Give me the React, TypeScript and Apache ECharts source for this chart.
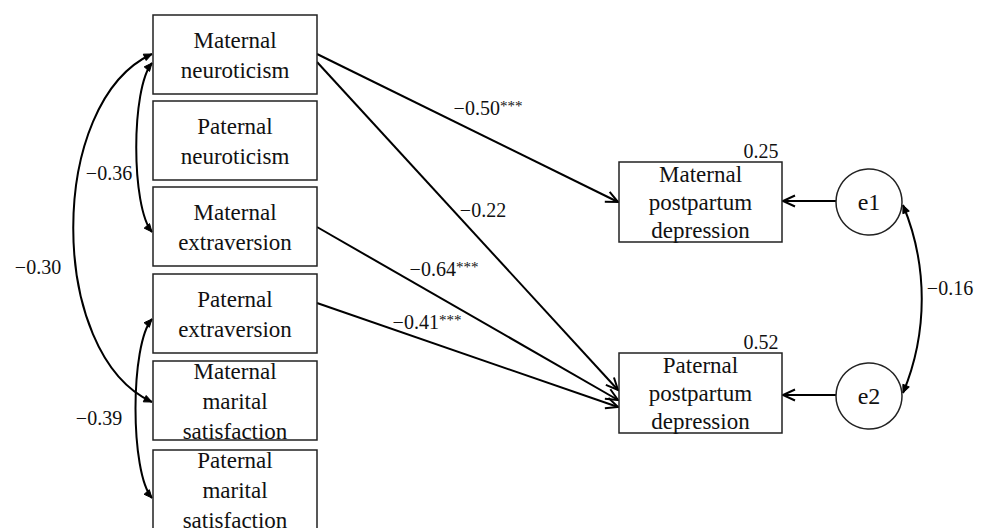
import React, { useEffect, useRef } from "react";
import * as echarts from "echarts";

// ---------- data ----------
const predictorLabels = [
  "Maternal\nneuroticism",
  "Paternal\nneuroticism",
  "Maternal\nextraversion",
  "Paternal\nextraversion",
  "Maternal\nmarital\nsatisfaction",
  "Paternal\nmarital\nsatisfaction",
];
const outcomeLabels = [
  "Maternal\npostpartum\ndepression",
  "Paternal\npostpartum\ndepression",
];
const errorLabels = ["e1", "e2"];
const rSquared = [0.25, 0.52];

// regression paths: predictor index -> outcome index
const pathFrom = [0, 0, 2, 3];
const pathTo = [0, 1, 1, 1];
const pathCoef = [-0.5, -0.22, -0.64, -0.41];
const pathStars = ["***", "", "***", "***"];

// covariances among predictors
const covA = [0, 0, 3];
const covB = [2, 4, 5];
const covCoef = [-0.36, -0.3, -0.39];

// residual covariance e1 <-> e2
const errCovCoef = -0.16;

// ---------- layout (positions / sizes) ----------
const FONT = "Liberation Serif";
const LBOX = { x: 153, w: 164, h: 79, lineH: 30, font: 23 };
const leftTops = [15, 101, 187, 274, 361, 450];
const RBOX = { x: 619, w: 163, h: 80, lineH: 28, font: 23 };
const rightTops = [162, 353];
const ERR = { cx: 869, r: 33 };
const errCy = [202, 396];

const pathStartY = [54, 62, 227, 303];
const pathEndY = [202, 390, 400, 407];
const pathLabelPos = [
  [488, 108],
  [483, 210],
  [444, 269],
  [427, 322],
];

const covStartY = [63, 54, 319];
const covEndY = [232, 402, 498];
const covCtrlX = [131, 47, 130];
const covCtrlD = [25, 48, 25];
const covLabelPos = [
  [109, 173],
  [38, 267],
  [99, 418],
];

const errCov = { x: 903, y1: 205, y2: 393, cx: 928, d: 60, lx: 950, ly: 288 };
const r2LabelX = 761;
const r2LabelDy = -11;

function fmt(v: number) {
  return (v < 0 ? "\u2212" : "") + Math.abs(v).toFixed(2);
}

function openHead(tx: number, ty: number, fx: number, fy: number, len = 12, half = 5.5) {
  const dx = tx - fx;
  const dy = ty - fy;
  const l = Math.hypot(dx, dy) || 1;
  const ux = dx / l;
  const uy = dy / l;
  const nx = -uy;
  const ny = ux;
  return [
    [tx - ux * len + nx * half, ty - uy * len + ny * half],
    [tx, ty],
    [tx - ux * len - nx * half, ty - uy * len - ny * half],
  ];
}

function buildOption() {
  const els: any[] = [];
  const lineStyle = { stroke: "#000", lineWidth: 2, fill: null };

  // regression paths
  for (let i = 0; i < pathCoef.length; i++) {
    const x1 = LBOX.x + LBOX.w;
    const y1 = pathStartY[i];
    const x2 = RBOX.x - 1;
    const y2 = pathEndY[i];
    els.push({ type: "line", shape: { x1, y1, x2, y2 }, style: lineStyle, z: 5 });
    els.push({
      type: "polyline",
      shape: { points: openHead(x2, y2, x1, y1) },
      style: { stroke: "#000", lineWidth: 2, fill: null },
      z: 5,
    });
    const stars = pathStars[i];
    els.push({
      type: "text",
      x: pathLabelPos[i][0],
      y: pathLabelPos[i][1],
      style: {
        text: stars ? `{a|${fmt(pathCoef[i])}}{b|${stars}}` : `{a|${fmt(pathCoef[i])}}`,
        align: "center",
        verticalAlign: "middle",
        rich: {
          a: { fontFamily: FONT, fontSize: 20, fill: "#111" },
          b: { fontFamily: FONT, fontSize: 15, fill: "#111", padding: [0, 0, 4, 0] },
        },
      },
      z: 10,
    });
  }

  // error -> outcome arrows
  for (let i = 0; i < errorLabels.length; i++) {
    const x1 = ERR.cx - ERR.r;
    const y = errCy[i] - 1;
    const x2 = RBOX.x + RBOX.w + 1;
    els.push({ type: "line", shape: { x1, y1: y, x2, y2: y }, style: lineStyle, z: 5 });
    els.push({
      type: "polyline",
      shape: { points: openHead(x2, y, x1, y) },
      style: { stroke: "#000", lineWidth: 2, fill: null },
      z: 5,
    });
  }

  // covariance curves (left)
  const bx = LBOX.x - 1;
  for (let i = 0; i < covCoef.length; i++) {
    const y1 = covStartY[i];
    const y2 = covEndY[i];
    const cx = covCtrlX[i];
    const d = covCtrlD[i];
    const cp1 = [cx, y1 + d];
    const cp2 = [cx, y2 - d];
    els.push({
      type: "bezierCurve",
      shape: { x1: bx, y1, x2: bx, y2, cpx1: cp1[0], cpy1: cp1[1], cpx2: cp2[0], cpy2: cp2[1] },
      style: { stroke: "#000", lineWidth: 2, fill: null },
      z: 4,
    });
    const h1 = openHead(bx, y1, cp1[0], cp1[1], 8, 3.5);
    const h2 = openHead(bx, y2, cp2[0], cp2[1], 8, 3.5);
    els.push({ type: "polygon", shape: { points: h1 }, style: { fill: "#000", stroke: "#000", lineWidth: 1 }, z: 5 });
    els.push({ type: "polygon", shape: { points: h2 }, style: { fill: "#000", stroke: "#000", lineWidth: 1 }, z: 5 });
    els.push({
      type: "text",
      x: covLabelPos[i][0],
      y: covLabelPos[i][1],
      style: { text: fmt(covCoef[i]), fontFamily: FONT, fontSize: 20, fill: "#111", align: "center", verticalAlign: "middle" },
      z: 10,
    });
  }

  // residual covariance
  {
    const { x, y1, y2, cx, d } = errCov;
    const cp1 = [cx, y1 + d];
    const cp2 = [cx, y2 - d];
    els.push({
      type: "bezierCurve",
      shape: { x1: x, y1, x2: x, y2, cpx1: cp1[0], cpy1: cp1[1], cpx2: cp2[0], cpy2: cp2[1] },
      style: { stroke: "#000", lineWidth: 2, fill: null },
      z: 4,
    });
    els.push({ type: "polygon", shape: { points: openHead(x, y1, cp1[0], cp1[1], 8, 3.5) }, style: { fill: "#000", stroke: "#000", lineWidth: 1 }, z: 5 });
    els.push({ type: "polygon", shape: { points: openHead(x, y2, cp2[0], cp2[1], 8, 3.5) }, style: { fill: "#000", stroke: "#000", lineWidth: 1 }, z: 5 });
    els.push({
      type: "text",
      x: errCov.lx,
      y: errCov.ly,
      style: { text: fmt(errCovCoef), fontFamily: FONT, fontSize: 20, fill: "#111", align: "center", verticalAlign: "middle" },
      z: 10,
    });
  }

  // predictor boxes
  predictorLabels.forEach((lab, i) => {
    const y = leftTops[i];
    els.push({
      type: "rect",
      shape: { x: LBOX.x, y, width: LBOX.w, height: LBOX.h },
      style: { fill: "#fff", stroke: "#222", lineWidth: 1.5 },
      z: 6,
    });
    els.push({
      type: "text",
      x: LBOX.x + LBOX.w / 2,
      y: y + LBOX.h / 2 + 1,
      style: {
        text: lab,
        fontFamily: FONT,
        fontSize: LBOX.font,
        lineHeight: LBOX.lineH,
        fill: "#111",
        align: "center",
        verticalAlign: "middle",
      },
      z: 7,
    });
  });

  // outcome boxes
  outcomeLabels.forEach((lab, i) => {
    const y = rightTops[i];
    els.push({
      type: "rect",
      shape: { x: RBOX.x, y, width: RBOX.w, height: RBOX.h },
      style: { fill: "#fff", stroke: "#222", lineWidth: 1.5 },
      z: 6,
    });
    els.push({
      type: "text",
      x: RBOX.x + RBOX.w / 2,
      y: y + RBOX.h / 2,
      style: {
        text: lab,
        fontFamily: FONT,
        fontSize: RBOX.font,
        lineHeight: RBOX.lineH,
        fill: "#111",
        align: "center",
        verticalAlign: "middle",
      },
      z: 7,
    });
    els.push({
      type: "text",
      x: r2LabelX,
      y: y + r2LabelDy,
      style: { text: rSquared[i].toFixed(2), fontFamily: FONT, fontSize: 20, fill: "#111", align: "center", verticalAlign: "middle" },
      z: 7,
    });
  });

  // error terms
  errorLabels.forEach((lab, i) => {
    els.push({
      type: "circle",
      shape: { cx: ERR.cx, cy: errCy[i], r: ERR.r },
      style: { fill: "#fff", stroke: "#222", lineWidth: 1.5 },
      z: 6,
    });
    els.push({
      type: "text",
      x: ERR.cx,
      y: errCy[i],
      style: { text: lab, fontFamily: FONT, fontSize: 24, fill: "#111", align: "center", verticalAlign: "middle" },
      z: 7,
    });
  });

  return {
    animation: false,
    backgroundColor: "#ffffff",
    graphic: { elements: els },
  };
}

export default function App() {
  const ref = useRef<HTMLDivElement>(null);
  useEffect(() => {
    if (!ref.current) return;
    const chart = echarts.init(ref.current, null, { renderer: "svg" });
    chart.setOption(buildOption() as any);
    return () => chart.dispose();
  }, []);
  return (
    <div
      ref={ref}
      style={{ position: "absolute", left: 0, top: 0, width: 982, height: 528, background: "#fff" }}
    />
  );
}
